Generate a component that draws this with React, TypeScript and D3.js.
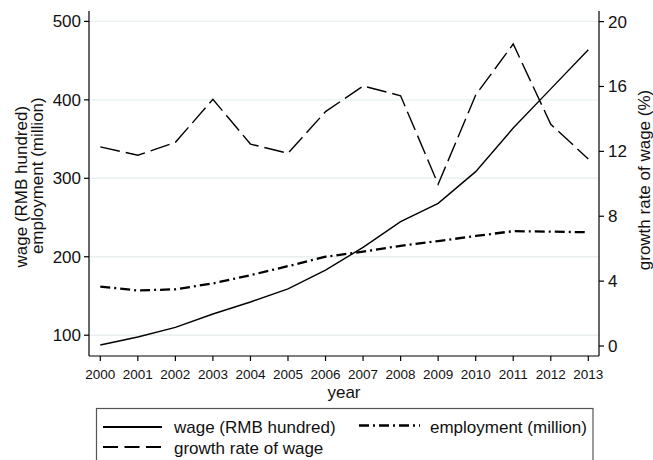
import React from "react";
import * as d3 from "d3";

// Yearly series
const years = [2000, 2001, 2002, 2003, 2004, 2005, 2006, 2007, 2008, 2009, 2010, 2011, 2012, 2013];
const wage = [87.5, 97.7, 110, 127, 142.3, 159, 183, 212, 244.7, 268, 308.5, 364, 414, 464];
const employment = [162, 157, 158.5, 166, 176.5, 188, 200, 206.5, 214, 220, 226.5, 232.6, 232, 231.2];
const growth = [12.28, 11.76, 12.56, 15.21, 12.45, 11.88, 14.45, 16.03, 15.43, 9.97, 15.47, 18.62, 13.67, 11.53];

const leftTicks = [100, 200, 300, 400, 500];
const rightTicks = [0, 4, 8, 12, 16, 20];

const W = 653;
const H = 460;
const FONT = "'Liberation Sans', Arial, Helvetica, sans-serif";
const plot = { left: 89, right: 599, top: 11, bottom: 356 };
const GRID = "#eaf0f2";

export default function App() {
  const x = d3.scaleLinear().domain([2000, 2013]).range([100.3, 588.3]);
  const yL = d3.scaleLinear().domain([100, 500]).range([335.2, 21.4]);
  const yR = d3.scaleLinear().domain([0, 20]).range([346, 21.6]);

  const wageLine = d3.line<number>().x((_, i) => x(years[i])).y((d) => yL(d));
  const empLine = d3.line<number>().x((_, i) => x(years[i])).y((d) => yL(d));
  const growthLine = d3.line<number>().x((_, i) => x(years[i])).y((d) => yR(d));

  const solid = { stroke: "#000", strokeWidth: 1.4, fill: "none" };
  const dashed = { stroke: "#000", strokeWidth: 1.4, fill: "none", strokeDasharray: "20,6" };
  const dashDot = { stroke: "#000", strokeWidth: 2.3, fill: "none", strokeDasharray: "10,4,2,4" };

  return (
    <svg
      width={W}
      height={H}
      style={{ position: "absolute", left: 0, top: 0, background: "#fff" }}
      fontFamily={FONT}
    >
      <rect x={0} y={0} width={W} height={H} fill="#fff" />

      {/* gridlines at left-axis ticks */}
      {leftTicks.map((t) => (
        <line key={t} x1={plot.left} x2={plot.right} y1={yL(t)} y2={yL(t)} stroke={GRID} strokeWidth={1.4} />
      ))}

      {/* series */}
      <path d={growthLine(growth) || ""} {...dashed} />
      <path d={empLine(employment) || ""} {...dashDot} />
      <path d={wageLine(wage) || ""} {...solid} />

      {/* axes */}
      <line x1={plot.left} x2={plot.left} y1={plot.top} y2={plot.bottom} stroke="#000" strokeWidth={1.2} />
      <line x1={plot.right} x2={plot.right} y1={plot.top} y2={plot.bottom} stroke="#000" strokeWidth={1.2} />
      <line x1={plot.left} x2={plot.right} y1={plot.bottom} y2={plot.bottom} stroke="#000" strokeWidth={1.2} />

      {leftTicks.map((t) => (
        <g key={t}>
          <line x1={plot.left - 5} x2={plot.left} y1={yL(t)} y2={yL(t)} stroke="#000" strokeWidth={1.2} />
          <text x={plot.left - 8} y={yL(t)} dy="0.35em" textAnchor="end" fontSize={17} fill="#111">
            {t}
          </text>
        </g>
      ))}

      {rightTicks.map((t) => (
        <g key={t}>
          <line x1={plot.right} x2={plot.right + 5} y1={yR(t)} y2={yR(t)} stroke="#000" strokeWidth={1.2} />
          <text x={plot.right + 9} y={yR(t)} dy="0.35em" textAnchor="start" fontSize={17} fill="#111">
            {t}
          </text>
        </g>
      ))}

      {years.map((yr) => (
        <g key={yr}>
          <line x1={x(yr)} x2={x(yr)} y1={plot.bottom} y2={plot.bottom + 5} stroke="#000" strokeWidth={1.2} />
          <text x={x(yr)} y={379} textAnchor="middle" fontSize={13.5} fill="#111">
            {yr}
          </text>
        </g>
      ))}

      {/* axis titles */}
      <text x={344} y={398} textAnchor="middle" fontSize={17} fill="#111">
        year
      </text>
      <text transform="translate(27,186.7) rotate(-90)" textAnchor="middle" fontSize={17} fill="#111">
        wage (RMB hundred)
      </text>
      <text transform="translate(43,175.7) rotate(-90)" textAnchor="middle" fontSize={17} fill="#111">
        employment (million)
      </text>
      <text transform="translate(650,180) rotate(-90)" textAnchor="middle" fontSize={17} fill="#111">
        growth rate of wage (%)
      </text>

      {/* legend */}
      <rect x={96.5} y={408.5} width={496.5} height={70} fill="#fff" stroke="#555" strokeWidth={1.2} />
      <line x1={103} x2={162} y1={427} y2={427} {...solid} strokeWidth={2} />
      <text x={174} y={427} dy="0.35em" fontSize={17} fill="#111">
        wage (RMB hundred)
      </text>
      <line x1={359} x2={420} y1={425.5} y2={425.5} {...dashDot} />
      <text x={430} y={427} dy="0.35em" fontSize={17} fill="#111">
        employment (million)
      </text>
      <line x1={103} x2={162} y1={447} y2={447} stroke="#000" strokeWidth={2} strokeDasharray="15,6.5" />
      <text x={174} y={448} dy="0.35em" fontSize={17} fill="#111">
        growth rate of wage
      </text>
    </svg>
  );
}
